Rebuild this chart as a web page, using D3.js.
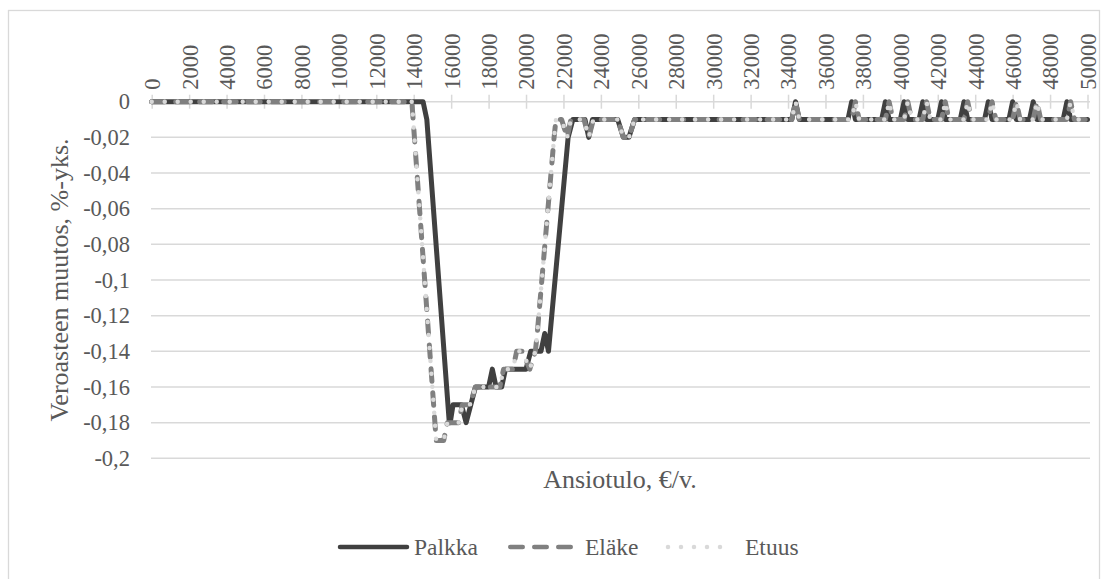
<!DOCTYPE html>
<html lang="fi">
<head>
<meta charset="UTF-8">
<title>Veroasteen muutos</title>
<script src="https://cdn.jsdelivr.net/npm/d3@7"></script>
<style>
  body { margin: 0; padding: 0; background: #fff; overflow: hidden; }
</style>
</head>
<body>
<div id="chart"></div>
<script>
// x: ansiotulo (€/v.), y: veroasteen muutos (%-yks.)
var xTicks = d3.range(0, 50001, 2000);
var yTicks = [0, -0.02, -0.04, -0.06, -0.08, -0.1, -0.12, -0.14, -0.16, -0.18, -0.2];

var palkkaTulo = [0, 14500, 14700, 15900, 15950, 16100, 16550, 16800, 17300, 18000,
  18200, 18400, 18700, 18900, 20000, 20250, 20800, 21000, 21200, 22250,
  22500, 23150, 23350, 23550, 24900, 25200, 25500, 25800, 34200, 34400,
  34600, 37200, 37400, 37600, 39000, 39200, 39400, 40000, 40200, 40400,
  41000, 41200, 41400, 42000, 42200, 42400, 43200, 43400, 43600, 44500,
  44700, 44900, 45800, 46000, 46200, 46900, 47100, 47300, 48700, 48900,
  49100, 50000];
var palkkaMuutos = [0, 0, -0.01, -0.18, -0.18, -0.17, -0.17, -0.18, -0.16, -0.16,
  -0.15, -0.16, -0.16, -0.15, -0.15, -0.14, -0.14, -0.13, -0.14, -0.02,
  -0.01, -0.01, -0.02, -0.01, -0.01, -0.02, -0.02, -0.01, -0.01, 0,
  -0.01, -0.01, 0, -0.01, -0.01, 0, -0.01, -0.01, 0, -0.01,
  -0.01, 0, -0.01, -0.01, 0, -0.01, -0.01, 0, -0.01, -0.01,
  0, -0.01, -0.01, 0, -0.01, -0.01, 0, -0.01, -0.01, 0,
  -0.01, -0.01];

var elakeTulo = [0, 13900, 15200, 15600, 15800, 16400, 16600, 17000, 17300, 18600,
  18800, 19300, 19500, 19800, 20200, 20500, 20600, 21500, 21600, 21900,
  22200, 22400, 23100, 23350, 23600, 24900, 25200, 25500, 25800, 34200,
  34400, 34600, 37400, 37600, 37800, 39200, 39400, 39600, 40200, 40400,
  40600, 41200, 41400, 41600, 42200, 42400, 42600, 43400, 43600, 43800,
  44700, 44900, 45100, 46000, 46200, 46400, 47100, 47300, 47500, 48900,
  49100, 49300, 50000];
var elakeMuutos = [0, 0, -0.19, -0.19, -0.18, -0.18, -0.17, -0.17, -0.16, -0.16,
  -0.15, -0.15, -0.14, -0.14, -0.15, -0.14, -0.13, -0.02, -0.01, -0.01,
  -0.02, -0.01, -0.01, -0.02, -0.01, -0.01, -0.02, -0.02, -0.01, -0.01,
  0, -0.01, -0.01, 0, -0.01, -0.01, 0, -0.01, -0.01, 0,
  -0.01, -0.01, 0, -0.01, -0.01, 0, -0.01, -0.01, 0, -0.01,
  -0.01, 0, -0.01, -0.01, 0, -0.01, -0.01, 0, -0.01, -0.01,
  0, -0.01, -0.01];

var etuusTulo = [0, 13900, 15200, 15600, 15800, 16400, 16600, 17000, 17300, 18600,
  18800, 19300, 19500, 19800, 20200, 20500, 20600, 21500, 21600, 21900,
  22200, 22400, 23100, 23350, 23600, 24900, 25200, 25500, 25800, 34200,
  34400, 34600, 37400, 37600, 37800, 39200, 39400, 39600, 40200, 40400,
  40600, 41200, 41400, 41600, 42200, 42400, 42600, 43400, 43600, 43800,
  44700, 44900, 45100, 46000, 46200, 46400, 47100, 47300, 47500, 48900,
  49100, 49300, 50000];
var etuusMuutos = [0, 0, -0.19, -0.19, -0.18, -0.18, -0.17, -0.17, -0.16, -0.16,
  -0.15, -0.15, -0.14, -0.14, -0.15, -0.14, -0.13, -0.02, -0.01, -0.01,
  -0.02, -0.01, -0.01, -0.02, -0.01, -0.01, -0.02, -0.02, -0.01, -0.01,
  0, -0.01, -0.01, 0, -0.01, -0.01, 0, -0.01, -0.01, 0,
  -0.01, -0.01, 0, -0.01, -0.01, 0, -0.01, -0.01, 0, -0.01,
  -0.01, 0, -0.01, -0.01, 0, -0.01, -0.01, 0, -0.01, -0.01,
  0, -0.01, -0.01];

var sarjat = [
  { nimi: "Palkka", tulo: palkkaTulo, muutos: palkkaMuutos, color: "#404040", dash: null },
  { nimi: "Eläke", tulo: elakeTulo, muutos: elakeMuutos, color: "#808080", dash: "12.5,11.5" },
  { nimi: "Etuus", tulo: etuusTulo, muutos: etuusMuutos, color: "#d9d9d9", dash: "0,13" }
];

var SERIF = "'Liberation Serif', 'Times New Roman', 'DejaVu Serif', serif";
var W = 1108, H = 579;
var svg = d3.select("#chart").append("svg")
    .attr("width", W)
    .attr("height", H)
    .attr("font-family", SERIF);

// chart border
svg.append("rect")
    .attr("x", 8.5).attr("y", 10.5)
    .attr("width", 1091).attr("height", 600)
    .attr("fill", "none")
    .attr("stroke", "#d9d9d9")
    .attr("stroke-width", 1.3);

var x = d3.scaleLinear().domain([0, 50000]).range([151.7, 1087.5]);
var y = d3.scaleLinear().domain([-0.2, 0]).range([458.3, 101.7]);
var fmt = function(v) { return String(+v.toFixed(2)).replace(".", ","); };

// gridlines
svg.append("g").selectAll("line")
    .data(yTicks.filter(function(v) { return v !== 0; }))
    .enter().append("line")
    .attr("x1", 151).attr("x2", 1090)
    .attr("y1", function(d) { return y(d); })
    .attr("y2", function(d) { return y(d); })
    .attr("stroke", "#d9d9d9")
    .attr("stroke-width", 1.5);

// y axis labels
var yAxis = svg.append("g")
    .attr("transform", "translate(151,0)")
    .call(d3.axisLeft(y).tickValues(yTicks).tickSize(0).tickPadding(21).tickFormat(fmt))
    .attr("font-family", SERIF);
yAxis.select(".domain").remove();
yAxis.selectAll("text")
    .style("font-family", SERIF)
    .style("font-size", "22.5px")
    .attr("fill", "#595959");

// x axis on zero line, labels on top
var xAxis = svg.append("g")
    .attr("transform", "translate(0," + y(0) + ")")
    .call(d3.axisTop(x).tickValues(xTicks).tickSizeOuter(0).tickFormat(d3.format("d")))
    .attr("font-family", SERIF);
xAxis.select(".domain")
    .attr("d", "M151,0H1090")
    .attr("stroke", "#d9d9d9")
    .attr("stroke-width", 1.5);
xAxis.selectAll(".tick line")
    .attr("y1", -7).attr("y2", 7)
    .attr("stroke", "#d9d9d9")
    .attr("stroke-width", 1.5);
xAxis.selectAll(".tick text")
    .attr("transform", "rotate(-90)")
    .attr("x", 12).attr("y", 0).attr("dy", "0.35em")
    .style("text-anchor", "start")
    .style("font-family", SERIF)
    .style("font-size", "22.5px")
    .attr("fill", "#595959");

// series
var line = d3.line()
    .x(function(d) { return x(d[0]); })
    .y(function(d) { return y(d[1]); });

sarjat.forEach(function(s) {
  svg.append("path")
      .datum(d3.zip(s.tulo, s.muutos))
      .attr("d", line)
      .attr("fill", "none")
      .attr("stroke", s.color)
      .attr("stroke-width", s.dash === "0,13" ? 4.5 : 5)
      .attr("stroke-linejoin", "round")
      .attr("stroke-linecap", "round")
      .attr("stroke-dasharray", s.dash);
});

// axis titles
svg.append("text")
    .attr("transform", "translate(68,280) rotate(-90)")
    .attr("text-anchor", "middle")
    .style("font-family", SERIF)
    .style("font-size", "26px")
    .attr("fill", "#595959")
    .text("Veroasteen muutos, %-yks.");

svg.append("text")
    .attr("x", 620).attr("y", 488)
    .attr("text-anchor", "middle")
    .style("font-family", SERIF)
    .style("font-size", "26px")
    .attr("fill", "#595959")
    .text("Ansiotulo, €/v.");

// legend
var legend = [
  { x1: 340, x2: 407, tx: 414 },
  { x1: 510.25, x2: 570.75, tx: 585 },
  { x1: 668, x2: 733, tx: 745 }
];
legend.forEach(function(l, i) {
  var s = sarjat[i];
  svg.append("line")
      .attr("x1", l.x1).attr("x2", l.x2)
      .attr("y1", 547).attr("y2", 547)
      .attr("stroke", s.color)
      .attr("stroke-width", 4.5)
      .attr("stroke-linecap", "round")
      .attr("stroke-dasharray", s.dash);
  svg.append("text")
      .attr("x", l.tx).attr("y", 555)
      .style("font-family", SERIF)
      .style("font-size", "23.5px")
      .attr("fill", "#595959")
      .text(s.nimi);
});
</script>
</body>
</html>
